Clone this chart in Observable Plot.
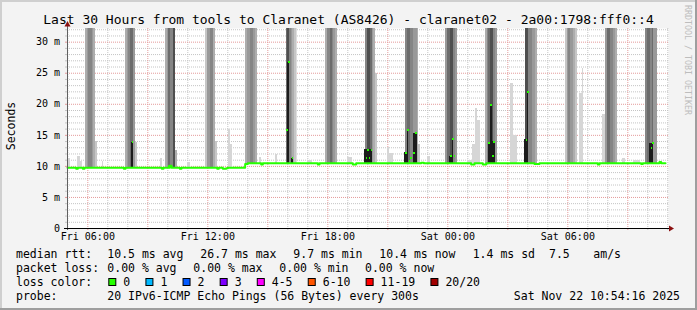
<!DOCTYPE html>
<html><head><meta charset="utf-8">
<script src="https://cdn.jsdelivr.net/npm/d3@7"></script>
<script src="https://cdn.jsdelivr.net/npm/@observablehq/plot@0.6"></script>
<style>
html,body{margin:0;padding:0;background:#f3f3f3;}
#chart{position:relative;width:697px;height:310px;}
</style></head><body><div id="chart"></div>
<script>
// ---------- data ----------
const xStart = "Fri 04:59", xEnd = "Sat 11:02";
const yMax = 32.2;
const yTicks = [0, 5, 10, 15, 20, 25, 30];
const yTickLabels = ["0", "5 m", "10 m", "15 m", "20 m", "25 m", "30 m"];
const xTickLabels = ["Fri 06:00", "Fri 12:00", "Fri 18:00", "Sat 00:00", "Sat 06:00"];

// median rtt (ms) – step change points
const medianTimes = ["Fri 04:59","Fri 05:25","Fri 05:30","Fri 05:45","Fri 05:50","Fri 07:48","Fri 07:53","Fri 09:42","Fri 09:47","Fri 10:06","Fri 10:11","Fri 10:36","Fri 10:41","Fri 12:28","Fri 12:33","Fri 12:45","Fri 12:55","Fri 13:00","Fri 13:52","Fri 14:00","Fri 14:40","Fri 14:45","Fri 17:30","Fri 17:35","Fri 19:15","Fri 19:25","Fri 22:40","Fri 22:48","Sat 01:10","Sat 01:20","Sat 01:45","Sat 01:55","Sat 04:20","Sat 04:35","Sat 07:30","Sat 07:35","Sat 09:40","Sat 09:45","Sat 10:35","Sat 10:40","Sat 10:53"];
const medianValues = [9.8,9.6,9.8,9.6,9.8,9.6,9.8,9.6,9.8,10.1,9.8,9.6,9.8,9.6,9.8,9.6,9.7,9.8,10.4,10.5,10.3,10.5,10.3,10.5,10.3,10.5,10.6,10.5,10.3,10.5,10.3,10.5,10.4,10.5,10.3,10.5,10.4,10.5,10.7,10.5,10.5];

// median values of single steps that jump up
const spikeTimes = ["Fri 08:13","Fri 10:03","Fri 15:57","Fri 16:02","Fri 16:13","Fri 19:55","Fri 19:59","Fri 20:04","Fri 20:10","Fri 21:54","Fri 21:59","Fri 22:04","Fri 22:09","Fri 22:18","Fri 22:24","Sat 00:09","Sat 00:14","Sat 00:19","Sat 02:03","Sat 02:09","Sat 02:14","Sat 02:18","Sat 03:55","Sat 03:59","Sat 10:10","Sat 10:14"];
const spikeValues = [13.9,10.1,15.9,26.8,11.3,11.3,12.7,11.3,12.7,12.2,15.9,10.9,11.3,12.1,15.3,11.6,14.4,11.7,13.7,19.95,11.6,14.0,14.3,22.0,12.9,13.7];

// smoke bursts: start time, shade level per 5-min column, column tops (ms; 40 = off the chart), base
const burstStarts = ["Fri 05:53","Fri 07:53","Fri 09:53","Fri 11:53","Fri 13:53","Fri 15:55","Fri 17:53","Fri 19:53","Fri 21:53","Fri 23:53","Sat 01:53","Sat 03:53","Sat 05:53","Sat 07:53","Sat 09:53"];
const burstShades = [
  [2,3,4,4,3,2,1],
  [2,3,4,5,5,3,1],
  [2,3,5,4,4,6,2],
  [1,3,3,4,4,2,1],
  [2,3,3,4,4,3,2],
  [5,6,4,3,2,1,0],
  [2,4,4,5,4,3,2],
  [4,6,6,5,3,2,1],
  [4,5,5,4,4,3,3,2,1],
  [3,5,5,6,6,4,3],
  [2,4,5,6,6,4,3],
  [6,6,4,4,3,3,2],
  [1,3,4,3,3,2,1],
  [3,5,5,4,4,3,2],
  [4,5,5,4,5,3,3]
];
const burstTops = [
  [40,40,40,40,40,40,14],
  [40,40,40,40,40,40,13.9],
  [40,40,40,40,40,40,12.6],
  [40,40,40,40,40,40,14],
  [40,40,40,40,40,40,40],
  [40,40,40,40,40,40,40],
  [40,40,40,40,40,40,40],
  [40,40,40,40,40,40,25],
  [40,40,40,40,40,40,40,40,13.6],
  [40,40,40,40,40,40,40],
  [40,40,40,40,40,40,40],
  [40,40,40,40,40,40,40],
  [40,40,40,40,40,40,40],
  [40,40,40,40,40,40,40],
  [40,40,40,40,40,40,40]
];
const burstLows = [9.8,9.8,9.8,9.8,10.4,10.4,10.4,10.4,10.4,10.4,10.4,10.4,10.4,10.4,10.4];
const shadePalette = ["#dedede","#c6c6c6","#adadad","#999999","#858585","#6c6c6c","#4f4f4f","#2b2b2b"];

// dark smoke cores
const coreStarts = ["Fri 08:10","Fri 15:58","Fri 16:11","Fri 19:51","Fri 21:50","Fri 22:00","Fri 22:17","Sat 00:05","Sat 00:13","Sat 02:02","Sat 02:08","Sat 02:15","Sat 03:50","Sat 03:59","Sat 10:05"];
const coreEnds   = ["Fri 08:18","Fri 16:06","Fri 16:18","Fri 20:13","Fri 22:01","Fri 22:03","Fri 22:28","Sat 00:13","Sat 00:18","Sat 02:08","Sat 02:13","Sat 02:23","Sat 04:02","Sat 04:02","Sat 10:17"];
const coreTops   = [13.9,26.8,11.3,12.7,12.2,15.9,15.3,11.6,14.4,13.7,20.0,14.0,14.3,22.0,13.7];

// light isolated smoke
const lightStarts = ["Fri 05:00","Fri 05:30","Fri 05:38","Fri 06:43","Fri 09:38","Fri 10:58","Fri 13:03","Fri 13:08","Fri 14:36","Fri 15:23","Fri 16:58","Fri 18:58","Fri 21:00","Fri 21:05","Fri 22:58","Sat 00:58","Sat 01:15","Sat 01:23","Sat 01:30","Sat 03:08","Sat 03:18","Sat 06:36","Sat 06:43","Sat 07:43","Sat 08:43","Sat 09:17"];
const lightEnds   = ["Fri 05:08","Fri 05:38","Fri 05:44","Fri 06:48","Fri 09:45","Fri 11:08","Fri 13:08","Fri 13:15","Fri 14:42","Fri 15:29","Fri 17:13","Fri 19:13","Fri 21:05","Fri 21:18","Fri 23:08","Sat 01:13","Sat 01:23","Sat 01:30","Sat 01:38","Sat 03:18","Sat 03:28","Sat 06:43","Sat 06:48","Sat 07:53","Sat 08:53","Sat 09:38"];
const lightTops   = [11.2,11.6,10.8,10.8,11.2,10.6,16.0,13.5,11.5,11.9,11.0,11.5,13.1,12.0,11.6,10.9,13.6,19.3,17.4,23.3,14.9,21.7,25.7,18.4,11.2,11.0];

const titleText = "Last 30 Hours from tools to Claranet (AS8426) - claranet02 - 2a00:1798:fff0::4";
const legendRtt = ["median rtt:", "10.5 ms avg", "26.7 ms max", "9.7 ms min", "10.4 ms now", "1.4 ms sd", "7.5", "am/s"];
const legendLoss = ["packet loss:", "0.00 % avg", "0.00 % max", "0.00 % min", "0.00 % now"];
const lossLabels = ["0","1","2","3","4-5","6-10","11-19","20/20"];
const lossColors = ["#26ff00","#00b8ff","#0059ff","#7e00ff","#ff00ff","#ff5500","#ff0000","#a10000"];
const probeText = ["probe:", "20 IPv6-ICMP Echo Pings (56 Bytes) every 300s", "Sat Nov 22 10:54:16 2025"];

// ---------- build ----------
const T = s => { const [d, hm] = s.split(" "); const [h, m] = hm.split(":").map(Number);
  return new Date(Date.UTC(2025, 10, d === "Fri" ? 21 : 22, h, m)); };
const STEP = 5 * 60 * 1000;
const cap = v => Math.min(v, yMax);

const median = medianTimes.map((t, i) => ({t: T(t), v: medianValues[i]}));
const spikes = spikeTimes.map((t, i) => ({t1: T(t), t2: new Date(+T(t) + STEP), v: spikeValues[i]}));
const smoke = burstStarts.flatMap((s, i) => burstShades[i].map((sh, j) => ({
  x1: new Date(+T(s) + j * STEP), x2: new Date(+T(s) + (j + 1) * STEP),
  y1: burstLows[i], y2: cap(burstTops[i][j]), fill: shadePalette[sh]})));
const cores = coreStarts.map((s, i) => ({x1: T(s), x2: T(coreEnds[i]), y1: i < 1 ? 9.8 : 10.4, y2: cap(coreTops[i])}));
const lights = lightStarts.map((s, i) => ({x1: T(s), x2: T(lightEnds[i]), y1: T(s) < T("Fri 13:52") ? 9.8 : 10.4, y2: cap(lightTops[i])}));

const hourGrid = d3.utcHour.range(T("Fri 05:00"), T("Sat 11:01"));
const majorX = hourGrid.filter(d => d.getUTCHours() % 3 === 0);
const minorX = hourGrid.filter(d => d.getUTCHours() % 3 !== 0);
const minorY = d3.range(1, 33).filter(v => v % 5 !== 0);
const majorY = yTicks.slice(1);
const fmt = d3.utcFormat("%a %H:%M");

const font = "'DejaVu Sans Mono', monospace";
const plot = Plot.plot({
  width: 697, height: 310,
  marginLeft: 67, marginRight: 29, marginTop: 28, marginBottom: 82,
  style: {background: "#f3f3f3", fontFamily: font, fontSize: "10px", color: "#000", overflow: "visible"},
  x: {type: "utc", domain: [T(xStart), T(xEnd)]},
  y: {domain: [0, yMax]},
  color: {type: "identity"},
  marks: [
    Plot.frame({fill: "white", stroke: null}),
    Plot.gridX(minorX, {stroke: "#c4c4c4", strokeOpacity: 1, strokeDasharray: "1,1"}),
    Plot.gridY(minorY, {stroke: "#c4c4c4", strokeOpacity: 1, strokeDasharray: "1,1"}),
    Plot.gridX(majorX, {stroke: "#e49a9a", strokeOpacity: 1, strokeDasharray: "1,1"}),
    Plot.gridY(majorY, {stroke: "#e49a9a", strokeOpacity: 1, strokeDasharray: "1,1"}),
    Plot.axisX(minorX, {tickSize: 2, tickFormat: () => "", stroke: "#c4c4c4"}),
    Plot.axisX(majorX, {tickSize: 2, tickFormat: () => "", stroke: "#e49a9a"}),
    Plot.axisY(minorY, {tickSize: 2, tickFormat: () => "", stroke: "#c4c4c4"}),
    Plot.axisY(majorY, {tickSize: 2, tickFormat: () => "", stroke: "#e49a9a"}),
    Plot.rect(lights, {x1: "x1", x2: "x2", y1: "y1", y2: "y2", fill: "#d6d6d6", shapeRendering: "crispEdges"}),
    Plot.rect(smoke, {x1: "x1", x2: "x2", y1: "y1", y2: "y2", fill: "fill", shapeRendering: "crispEdges"}),
    Plot.rect(cores, {x1: "x1", x2: "x2", y1: "y1", y2: "y2", fill: "#1c1c1c", shapeRendering: "crispEdges"}),
    Plot.line(median, {x: "t", y: "v", curve: "step-after", stroke: "#26ff00", strokeWidth: 2}),
    Plot.ruleY(spikes, {x1: "t1", x2: "t2", y: "v", stroke: "#26ff00", strokeWidth: 2, shapeRendering: "crispEdges"}),
    Plot.axisY(yTicks, {tickSize: 0, tickPadding: 7.5, tickFormat: (d, i) => yTickLabels[yTicks.indexOf(d)], fontSize: 10, fill: "#000"}),
    Plot.axisX(xTickLabels.map(T), {tickSize: 0, tickPadding: 4, tickFormat: fmt, fontSize: 10, fill: "#000"})
  ]
});
document.getElementById("chart").appendChild(plot);

// ---------- decorations and text ----------
const svg = d3.select(plot);
const sx = plot.scale("x"), sy = plot.scale("y");
const [x0, x1] = sx.range, [yb, yt] = sy.range;
const g = svg.append("g");
// frame of the image
g.append("rect").attr("x", 0).attr("y", 0).attr("width", 697).attr("height", 2).attr("fill", "#cfcfcf");
g.append("rect").attr("x", 0).attr("y", 0).attr("width", 2).attr("height", 310).attr("fill", "#cfcfcf");
g.append("rect").attr("x", 0).attr("y", 308).attr("width", 697).attr("height", 2).attr("fill", "#9e9e9e");
g.append("rect").attr("x", 695).attr("y", 0).attr("width", 2).attr("height", 310).attr("fill", "#9e9e9e");
// axes
g.append("line").attr("x1", x0 + 0.5).attr("x2", x0 + 0.5).attr("y1", yb + 2).attr("y2", yt - 3).attr("stroke", "#606060");
g.append("line").attr("x1", x0 - 3).attr("x2", x1 + 3).attr("y1", yb + 0.5).attr("y2", yb + 0.5).attr("stroke", "#000");
g.append("path").attr("d", `M${x0 - 2.5},${yt - 1.5}L${x0 + 3.5},${yt - 1.5}L${x0 + 0.5},${yt - 7}Z`).attr("fill", "#8b1010");
g.append("path").attr("d", `M${x1 + 1},${yb - 2.5}L${x1 + 1},${yb + 3.5}L${x1 + 6},${yb + 0.5}Z`).attr("fill", "#8b1010");

const txt = (x, y, s, size, opts = {}) => {
  const t = g.append("text").attr("x", x).attr("y", y).text(s)
    .attr("font-family", font).attr("font-size", size).attr("fill", opts.fill || "#000")
    .attr("text-anchor", opts.anchor || "start").style("white-space", "pre");
  if (opts.transform) t.attr("transform", opts.transform);
  return t;
};
txt(348.5, 24, titleText, 13, {anchor: "middle"});
txt(0, 0, "Seconds", 11.5, {anchor: "middle", transform: "translate(15,126) rotate(-90)"});
txt(0, 0, "RRDTOOL / TOBI OETIKER", 8.3, {fill: "#bdbdbd", transform: "translate(684.5,5) rotate(90)"});

const LF = 11.5, CW = 6.92;
const rttX = [16, 107.3, 200.3, 293.3, 379.3, 472.7, 549, 593.3];
legendRtt.forEach((s, i) => txt(rttX[i], 257.7, s, LF));
const lossX = [16, 107.3, 193.3, 279.3, 365];
legendLoss.forEach((s, i) => txt(lossX[i], 271.6, s, LF));
txt(16, 285.7, "loss color:", LF);
let lx = 108.3;
lossLabels.forEach((lab, i) => {
  g.append("rect").attr("x", lx + 0.5).attr("y", 278.5).attr("width", 7).attr("height", 7)
    .attr("fill", lossColors[i]).attr("stroke", "#000");
  txt(lx + 15, 285.7, lab, LF);
  lx = lx + 15 + lab.length * CW + 15.2;
});
txt(16, 300, probeText[0], LF);
txt(107.3, 300, probeText[1], LF);
txt(680, 300, probeText[2], LF, {anchor: "end"});
</script></body></html>
